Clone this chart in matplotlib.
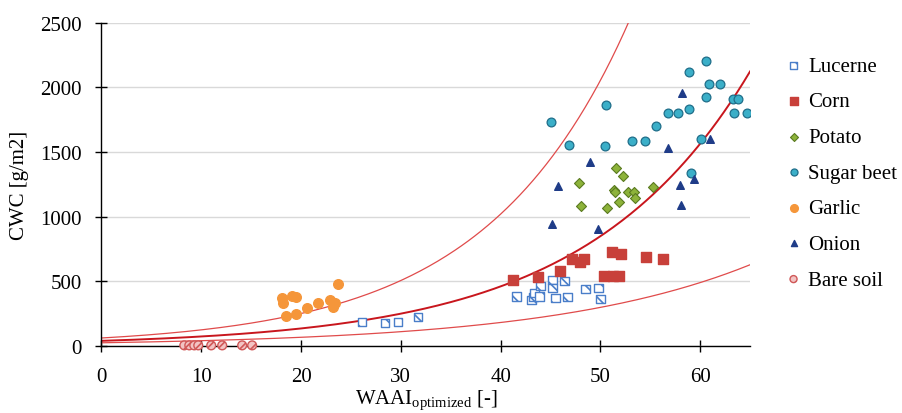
import matplotlib
matplotlib.use('Agg')
import matplotlib.pyplot as plt
import numpy as np

plt.rcParams['font.family'] = ['Liberation Serif', 'DejaVu Serif']
plt.rcParams['mathtext.fontset'] = 'custom'
plt.rcParams['mathtext.rm'] = 'Liberation Serif'
plt.rcParams['mathtext.it'] = 'Liberation Serif'
plt.rcParams['hatch.linewidth'] = 1.2

# data
lucerne_x = [26.1, 28.4, 29.7, 31.7, 41.6, 43.1, 43.3, 43.4, 43.9, 44.0, 45.2, 45.2, 45.5, 46.4, 46.7, 48.5, 49.8, 50.0]
lucerne_y = [186, 176, 188, 224, 382, 358, 377, 410, 382, 464, 508, 449, 369, 501, 377, 441, 447, 364]

corn_x = [41.2, 43.8, 46.0, 47.2, 48.0, 48.4, 51.2, 52.1, 54.6, 56.3, 50.4, 51.3, 51.9]
corn_y = [513, 536, 580, 671, 653, 671, 725, 710, 686, 671, 542, 542, 542]

potato_x = [51.6, 52.3, 47.9, 55.3, 51.4, 51.5, 52.8, 53.4, 53.5, 51.9, 48.1, 50.7]
potato_y = [1375, 1313, 1264, 1231, 1205, 1194, 1192, 1187, 1148, 1112, 1086, 1068]

beet_x = [45.1, 46.9, 50.6, 50.5, 53.2, 54.5, 55.6, 56.8, 57.8, 58.9, 58.9, 60.6, 60.9, 62.0,
          60.6, 63.3, 63.8, 63.4, 64.7, 60.1, 59.1]
beet_y = [1731, 1556, 1865, 1545, 1587, 1587, 1698, 1803, 1803, 1834, 2116, 2203, 2028, 2028,
          1922, 1912, 1912, 1803, 1803, 1602, 1337]

garlic_x = [18.1, 18.2, 18.5, 19.1, 19.5, 19.5, 20.6, 21.7, 22.9, 23.2, 23.4, 23.7]
garlic_y = [375, 330, 235, 387, 380, 250, 292, 332, 355, 305, 330, 477]

onion_x = [45.2, 45.8, 49.0, 49.8, 56.8, 58.0, 58.1, 58.2, 59.4, 61.0]
onion_y = [947, 1241, 1422, 903, 1530, 1248, 1091, 1958, 1293, 1602]

soil_x = [8.3, 8.8, 9.3, 9.7, 11.0, 12.1, 14.1, 15.1]
soil_y = [5, 5, 5, 5, 5, 5, 5, 5]

# exponential fit y = a * exp(b * x) and its upper / lower bounds
fit_a, fit_b = 40, 0.0611
upper_a, upper_b = 62, 0.070
lower_a, lower_b = 25, 0.0496

fig = plt.figure(figsize=(9.02, 4.14), dpi=100)
ax = fig.add_axes([0.1125, 0.1618, 0.719, 0.781])

ax.yaxis.grid(True, color='#d9d9d9', linewidth=1.0)
ax.set_axisbelow(True)

xs = np.linspace(0, 65, 300)
ax.plot(xs, upper_a * np.exp(upper_b * xs), color='#e04b4b', linewidth=0.9)
ax.plot(xs, lower_a * np.exp(lower_b * xs), color='#e04b4b', linewidth=0.9)
ax.plot(xs, fit_a * np.exp(fit_b * xs), color='#c8161d', linewidth=1.4)

ax.scatter(lucerne_x, lucerne_y, marker='s', s=36, facecolor='white', edgecolor='#4a7ec9',
           linewidth=1.0, hatch='\\\\', label='Lucerne', zorder=3)
ax.scatter(corn_x, corn_y, marker='s', s=48, color='#c8403a', label='Corn', zorder=3)
ax.scatter(potato_x, potato_y, marker='D', s=26, facecolor='#8db33a', edgecolor='#5a7a20',
           linewidth=0.8, label='Potato', zorder=3)
ax.scatter(beet_x, beet_y, marker='o', s=40, facecolor='#3bafc8', edgecolor='#1f6e8a',
           linewidth=0.9, label='Sugar beet', zorder=3)
ax.scatter(garlic_x, garlic_y, marker='o', s=48, color='#f5963a', label='Garlic', zorder=3)
ax.scatter(onion_x, onion_y, marker='^', s=30, color='#1f3c88', label='Onion', zorder=3)
ax.scatter(soil_x, soil_y, marker='o', s=40, facecolor='#f2c4c4', edgecolor='#d05858',
           linewidth=1.0, hatch='///', label='Bare soil', zorder=3, clip_on=False)

ax.set_xlim(0, 65)
ax.set_ylim(0, 2500)
ax.set_xticks([0, 10, 20, 30, 40, 50, 60])
ax.set_yticks([0, 500, 1000, 1500, 2000, 2500])
ax.tick_params(direction='inout', length=8, width=1, labelsize=15)
ax.tick_params(axis='y', pad=10)
ax.tick_params(axis='x', pad=11)
for side in ['top', 'right']:
    ax.spines[side].set_visible(False)
for side in ['left', 'bottom']:
    ax.spines[side].set_linewidth(1.0)

ax.set_ylabel('CWC [g/m2]', fontsize=15, labelpad=8)
ax.set_xlabel(r'WAAI$_{\mathrm{optimized}}$ [-]', fontsize=15, labelpad=1)

ax.legend(loc='upper left', bbox_to_anchor=(1.035, 0.922), frameon=False, fontsize=15,
          handletextpad=0.1, labelspacing=0.77, markerscale=0.8, scatterpoints=1,
          borderaxespad=0, handlelength=1.2)

fig.savefig('out.png', dpi=100)
